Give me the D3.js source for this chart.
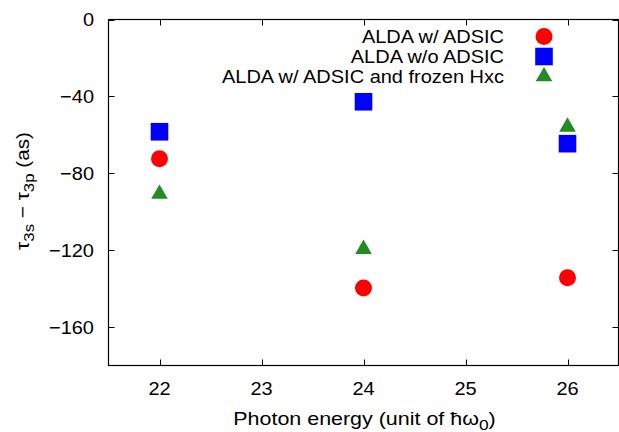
<!DOCTYPE html>
<html>
<head>
<meta charset="utf-8">
<script src="https://cdn.jsdelivr.net/npm/d3@7"></script>
<style>
  body { margin: 0; background: #fff; }
  text { font-family: "Liberation Sans", Arial, sans-serif; }
</style>
</head>
<body>
<script>
// photon energies (unit of hbar omega_0)
var energies = [22, 24, 26];
// tau_3s - tau_3p (as)
var withAdsic = [-72.4, -139.7, -134.3];
var withoutAdsic = [-58.4, -42.8, -64.6];
var frozenHxc = [-90.8, -119.5, -55.9];

var seriesNames = ["ALDA w/ ADSIC", "ALDA w/o ADSIC", "ALDA w/ ADSIC and frozen Hxc"];
var xTicks = [22, 23, 24, 25, 26];
var yTicks = [0, -40, -80, -120, -160];

var width = 619, height = 432;
var margin = {top: 19.5, right: 0.5, bottom: 66.5, left: 108.5};
var sx = 1.08; // glyphs in the picture run a bit wide

var series = [
  {name: seriesNames[0], values: withAdsic, color: "#ff0000", shape: d3.symbolCircle, size: 227},
  {name: seriesNames[1], values: withoutAdsic, color: "#0000ff", shape: d3.symbolSquare, size: 310},
  {name: seriesNames[2], values: frozenHxc, color: "#228b22", shape: d3.symbolTriangle, size: 120}
];

var svg = d3.select("body").append("svg")
  .attr("width", width)
  .attr("height", height)
  .attr("font-size", 18.5);

var x = d3.scaleLinear().domain([21.5, 26.5]).range([margin.left, width - margin.right]);
var y = d3.scaleLinear().domain([-180, 0]).range([height - margin.bottom, margin.top]);

var fmt = d3.format("");
function place(px, py, s) { return "translate(" + px + "," + py + ") scale(" + (s || sx) + ",1)"; }

// ticks, inward on all four sides
var tl = 6;
var axes = svg.append("g").attr("stroke", "#000").attr("stroke-width", 1);
xTicks.forEach(function (t) {
  var px = Math.round(x(t)) + 0.5;
  axes.append("line").attr("x1", px).attr("x2", px).attr("y1", y(-180)).attr("y2", y(-180) - tl);
  axes.append("line").attr("x1", px).attr("x2", px).attr("y1", y(0)).attr("y2", y(0) + tl);
});
yTicks.forEach(function (t) {
  var py = Math.round(y(t)) + 0.5;
  axes.append("line").attr("x1", x(21.5)).attr("x2", x(21.5) + tl).attr("y1", py).attr("y2", py);
  axes.append("line").attr("x1", x(26.5)).attr("x2", x(26.5) - tl).attr("y1", py).attr("y2", py);
});

// border
svg.append("rect")
  .attr("x", x(21.5)).attr("y", y(0))
  .attr("width", x(26.5) - x(21.5)).attr("height", y(-180) - y(0))
  .attr("fill", "none").attr("stroke", "#000").attr("stroke-width", 1.2);

// tick labels
svg.append("g").selectAll("text")
  .data(xTicks)
  .join("text")
  .attr("transform", d => place(x(d), y(-180) + 29.5))
  .attr("text-anchor", "middle")
  .text(fmt);

svg.append("g").selectAll("text")
  .data(yTicks)
  .join("text")
  .attr("transform", d => place(x(21.5) - 14.5, y(d)))
  .attr("dy", "0.36em")
  .attr("text-anchor", "end")
  .text(fmt);

// axis labels
var xl = svg.append("text")
  .attr("transform", place((x(21.5) + x(26.5)) / 2 + 1, 424.5, 1.16))
  .attr("text-anchor", "middle");
xl.append("tspan").text("Photon energy (unit of ħω");
xl.append("tspan").attr("font-size", 15).attr("dy", 5).text("0");
xl.append("tspan").attr("dy", -5).text(")");

var yl = svg.append("text")
  .attr("transform", "translate(29,191) rotate(-90) scale(1.12,1)")
  .attr("text-anchor", "middle");
yl.append("tspan").text("τ");
yl.append("tspan").attr("font-size", 15).attr("dy", 5).text("3s");
yl.append("tspan").attr("dy", -5).text(" − τ");
yl.append("tspan").attr("font-size", 15).attr("dy", 5).text("3p");
yl.append("tspan").attr("dy", -5).text(" (as)");

// points
series.forEach(function (s) {
  svg.append("g").selectAll("path")
    .data(s.values.map((v, i) => [energies[i], v]))
    .join("path")
    .attr("transform", d => "translate(" + x(d[0]) + "," + y(d[1]) + ")")
    .attr("d", d3.symbol(s.shape, s.size))
    .attr("fill", s.color);
});

// legend
var legend = svg.append("g").selectAll("g")
  .data(series)
  .join("g")
  .attr("transform", (d, i) => "translate(0," + (36.5 + i * 20) + ")");
legend.append("text")
  .attr("transform", place(504, 0))
  .attr("dy", "0.36em")
  .attr("text-anchor", "end")
  .text(d => d.name);
legend.append("path")
  .attr("transform", "translate(544,0)")
  .attr("d", d => d3.symbol(d.shape, d.size)())
  .attr("fill", d => d.color);
</script>
</body>
</html>
